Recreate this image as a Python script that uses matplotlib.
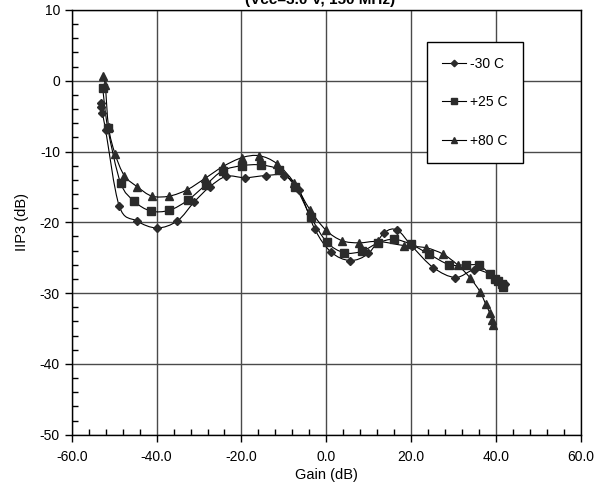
import numpy as np
import matplotlib.pyplot as plt
from matplotlib.path import Path
from matplotlib.patches import PathPatch
from matplotlib.lines import Line2D
from matplotlib.ticker import MultipleLocator, FormatStrFormatter

plt.rcParams['font.family'] = ['Liberation Sans', 'DejaVu Sans']
plt.rcParams['axes.unicode_minus'] = False

# -30 C
gain_m30 = [-53.1, -53.1, -52.8, -52.0, -48.8, -44.7, -39.9, -35.1, -31.1, -27.5, -23.6, -19.2,
            -14.3, -9.9, -6.5, -2.7, 1.1, 5.6, 9.9, 13.6, 16.7, 20.2, 25.2, 30.4, 34.8, 38.5,
            40.1, 41.0, 42.0]
iip3_m30 = [-3.1, -3.7, -4.5, -7.0, -17.7, -19.8, -20.8, -19.8, -17.1, -15.0, -13.5, -13.7,
            -13.4, -13.4, -15.4, -21.0, -24.2, -25.4, -24.4, -21.5, -21.1, -23.4, -26.4, -27.8,
            -26.7, -27.3, -28.0, -28.4, -28.7]

# +25 C
gain_p25 = [-52.7, -51.5, -48.5, -45.3, -41.4, -37.0, -32.7, -28.4, -24.4, -19.8, -15.4, -11.2,
            -7.3, -3.6, 0.1, 4.2, 8.3, 12.2, 15.9, 19.9, 24.2, 29.0, 32.9, 36.0, 38.5, 39.7,
            40.5, 41.3, 41.6]
iip3_p25 = [-1.0, -6.7, -14.4, -17.0, -18.4, -18.3, -16.9, -14.7, -12.7, -12.0, -11.9, -12.6,
            -15.0, -19.3, -22.8, -24.3, -24.1, -22.9, -22.4, -23.1, -24.5, -26.0, -26.0, -26.1,
            -27.3, -28.0, -28.3, -28.7, -29.2]

# +80 C
gain_p80 = [-52.6, -52.1, -51.3, -49.8, -47.6, -44.5, -41.1, -37.0, -32.8, -28.6, -24.3, -19.8,
            -15.8, -11.7, -7.6, -3.9, -0.1, 3.7, 7.7, 12.2, 18.4, 23.5, 27.5, 30.9, 33.8, 36.2,
            37.5, 38.5, 39.1, 39.3]
iip3_p80 = [0.6, -0.6, -6.6, -10.3, -13.4, -15.0, -16.3, -16.3, -15.4, -13.8, -12.1, -10.85,
            -10.6, -11.7, -14.4, -18.2, -21.1, -22.6, -22.9, -22.7, -23.3, -23.6, -24.5, -26.0,
            -27.8, -29.8, -31.5, -32.8, -33.8, -34.5]

series = [('-30 C', gain_m30, iip3_m30, 'D', 4.3),
          ('+25 C', gain_p25, iip3_p25, 's', 5.8),
          ('+80 C', gain_p80, iip3_p80, '^', 5.8)]


def smoothPath(x, y):
    # smoothed line like the spreadsheet one (catmull-rom as cubic bezier)
    p = np.column_stack([x, y])
    verts = [p[0]]
    codes = [Path.MOVETO]
    for i in range(len(p) - 1):
        p0 = p[i - 1] if i > 0 else p[i]
        p3 = p[i + 2] if i + 2 < len(p) else p[i + 1]
        c1 = p[i] + (p[i + 1] - p0) / 6
        c2 = p[i + 1] - (p3 - p[i]) / 6
        verts += [c1, c2, p[i + 1]]
        codes += [Path.CURVE4] * 3
    return Path(verts, codes)


fig = plt.figure(figsize=(5.99, 4.91), dpi=100)
ax = fig.add_axes([0.1197, 0.1147, 0.8503, 0.8651])

mcol = '#2b2b2b'
handles = []
for name, gx, gy, mk, ms in series:
    ax.add_patch(PathPatch(smoothPath(gx, gy), facecolor='none', edgecolor='black',
                           lw=0.8, zorder=3))
    ax.plot(gx, gy, linestyle='none', marker=mk, ms=ms, color=mcol, zorder=4)
    handles.append(Line2D([], [], color='black', lw=0.8, marker=mk, ms=ms - 1,
                          markerfacecolor=mcol, markeredgecolor=mcol, label=name))

ax.set_xlim(-60, 60)
ax.set_ylim(-50, 10)
ax.xaxis.set_major_locator(MultipleLocator(20))
ax.xaxis.set_minor_locator(MultipleLocator(4))
ax.yaxis.set_major_locator(MultipleLocator(10))
ax.yaxis.set_minor_locator(MultipleLocator(2))
ax.xaxis.set_major_formatter(FormatStrFormatter('%.1f'))
ax.grid(True, which='major', color='#4a4a4a', lw=1.0, zorder=1)
ax.tick_params(which='major', direction='out', length=5, width=1, labelsize=10, colors='black')
ax.tick_params(which='minor', direction='in', length=4, width=1)
ax.tick_params(axis='x', pad=6)
for s in ax.spines.values():
    s.set_linewidth(1.0)
    s.set_color('black')

ax.set_xlabel('Gain (dB)', fontsize=10.5, labelpad=3)
ax.set_ylabel('IIP3 (dB)', fontsize=10.5, labelpad=8)

fig.text(0.535, 1 - 4 / 491, '(Vcc=3.0 V, 150 MHz)', ha='center', va='baseline',
         fontsize=11, fontweight='bold')

leg = ax.legend(handles=handles, loc='upper left', bbox_to_anchor=(0.697, 0.925),
                borderaxespad=0, frameon=True, fancybox=False, fontsize=10,
                handlelength=1.7, handletextpad=0.3, labelspacing=1.75,
                borderpad=1.1, edgecolor='black', framealpha=1)
leg.get_frame().set_linewidth(1.0)
leg.set_zorder(5)

fig.savefig('out.png', dpi=100)
